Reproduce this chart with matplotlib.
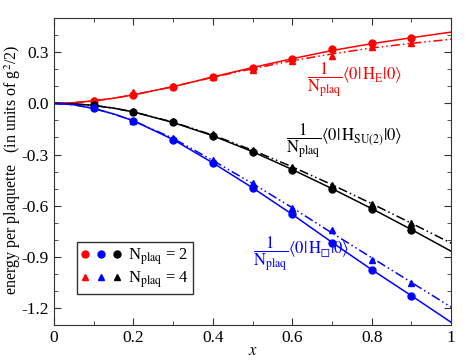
import numpy as np
import matplotlib
matplotlib.use("Agg")
import matplotlib.pyplot as plt
from matplotlib.legend_handler import HandlerTuple

plt.rcParams['font.family'] = ['Liberation Serif', 'DejaVu Serif']
plt.rcParams['mathtext.fontset'] = 'stix'

# data points
xp = [0.1, 0.2, 0.3, 0.4, 0.5, 0.6, 0.7, 0.8, 0.9]
red_n2 = [0.016, 0.049, 0.098, 0.157, 0.21, 0.26, 0.316, 0.353, 0.386]
red_n4 = [0.02, 0.067, 0.10, 0.157, 0.196, 0.249, 0.275, 0.33, 0.353]
blk_n2 = [-0.01, -0.049, -0.112, -0.19, -0.284, -0.388, -0.50, -0.618, -0.741]
blk_n4 = [-0.006, -0.045, -0.104, -0.18, -0.275, -0.373, -0.476, -0.588, -0.702]
blu_n2 = [-0.03, -0.102, -0.212, -0.349, -0.496, -0.651, -0.818, -0.975, -1.127]
blu_n4 = [-0.024, -0.102, -0.202, -0.333, -0.467, -0.614, -0.745, -0.916, -1.053]

# curves
xc = [0.0, 0.05, 0.1, 0.15, 0.2, 0.3, 0.4, 0.5, 0.6, 0.7, 0.8, 0.9, 1.0]
red_c2 = [0.0, 0.004, 0.015, 0.03, 0.05, 0.098, 0.155, 0.21, 0.262, 0.31, 0.35, 0.385, 0.418]
red_c4 = [0.0, 0.004, 0.015, 0.03, 0.05, 0.098, 0.153, 0.203, 0.25, 0.29, 0.325, 0.352, 0.376]
blk_c2 = [0.0, -0.003, -0.012, -0.028, -0.05, -0.112, -0.19, -0.283, -0.388, -0.50, -0.617, -0.74, -0.867]
blk_c4 = [0.0, -0.003, -0.012, -0.028, -0.05, -0.11, -0.186, -0.275, -0.372, -0.477, -0.588, -0.703, -0.82]
blu_c2 = [0.0, -0.008, -0.03, -0.062, -0.102, -0.212, -0.349, -0.495, -0.651, -0.815, -0.975, -1.128, -1.284]
blu_c4 = [0.0, -0.008, -0.03, -0.062, -0.102, -0.205, -0.335, -0.47, -0.612, -0.76, -0.905, -1.05, -1.195]

RED, BLUE, BLK = '#ff0000', '#0000ff', '#000000'

fig = plt.figure(figsize=(4.69, 3.62), dpi=100)
ax = fig.add_axes([0.115, 0.102, 0.847, 0.848])

dd = (0, (6, 2, 1, 2, 1, 2))
for c, y2, y4 in [(RED, red_c2, red_c4), (BLK, blk_c2, blk_c4), (BLUE, blu_c2, blu_c4)]:
    ax.plot(xc, y2, color=c, lw=1.1)
    ax.plot(xc, y4, color=c, lw=1.1, linestyle=dd)

h = {}
for name, c, y2, y4 in [('r', RED, red_n2, red_n4), ('k', BLK, blk_n2, blk_n4), ('b', BLUE, blu_n2, blu_n4)]:
    h[name + '2'], = ax.plot(xp, y2, 'o', color=c, ms=5, ls='none')
    h[name + '4'], = ax.plot(xp, y4, '^', color=c, ms=5, ls='none')

ax.set_xlim(0, 1)
ax.set_ylim(-1.3, 0.5)
ax.set_xticks([0, 0.2, 0.4, 0.6, 0.8, 1.0])
ax.set_xticklabels(['0', '0.2', '0.4', '0.6', '0.8', '1'])
ax.set_xticks(np.arange(0, 1.01, 0.1), minor=True)
ax.set_yticks([-1.2, -0.9, -0.6, -0.3, 0.0, 0.3])
ax.set_yticklabels(['-1.2', '-0.9', '-0.6', '-0.3', '0.0', '0.3'])
ax.set_yticks(np.arange(-1.3, 0.51, 0.1), minor=True)
ax.tick_params(which='both', direction='in', top=True, right=True, labelsize=12.5, colors='#333333')
ax.tick_params(which='major', length=5)
ax.tick_params(which='minor', length=3)
ax.tick_params(labelcolor='black')
for s in ax.spines.values():
    s.set_color('#333333')

ax.set_xlabel('$x$', fontsize=12, labelpad=-2)
ax.set_ylabel('energy per plaquette   (in units of g$^{2}$/2)', fontsize=11.5)
ax.yaxis.set_label_coords(-0.078, 0.505)

ax.text(0.636, 0.137, r'$\dfrac{1}{\mathrm{N}_{\mathrm{plaq}}}\langle 0|\,\mathrm{H}_{\mathrm{E}}|0\rangle$',
        color=RED, fontsize=12, va='center')
ax.text(0.584, -0.216, r'$\dfrac{1}{\mathrm{N}_{\mathrm{plaq}}}\langle 0|\,\mathrm{H}_{\mathrm{SU(2)}}|0\rangle$',
        color=BLK, fontsize=12, va='center')
ax.text(0.502, -0.882, '$\\dfrac{1}{\\mathrm{N}_{\\mathrm{plaq}}}\\langle 0|\\,\\mathrm{H}_{\u25fb}|0\\rangle$',
        color=BLUE, fontsize=12, va='center')

leg = ax.legend([(h['r2'], h['b2'], h['k2']), (h['r4'], h['b4'], h['k4'])],
                [r'N$_{\mathrm{plaq}}$ = 2', r'N$_{\mathrm{plaq}}$ = 4'],
                handler_map={tuple: HandlerTuple(ndivide=None, pad=0.5)},
                loc='lower left', bbox_to_anchor=(0.058, 0.1), fontsize=12,
                fancybox=False, framealpha=1, edgecolor='#333333',
                handlelength=2.4, handletextpad=0.4, borderpad=0.25, labelspacing=0.15,
                borderaxespad=0)
leg.get_frame().set_linewidth(1.0)

fig.savefig('out.png', dpi=100)
